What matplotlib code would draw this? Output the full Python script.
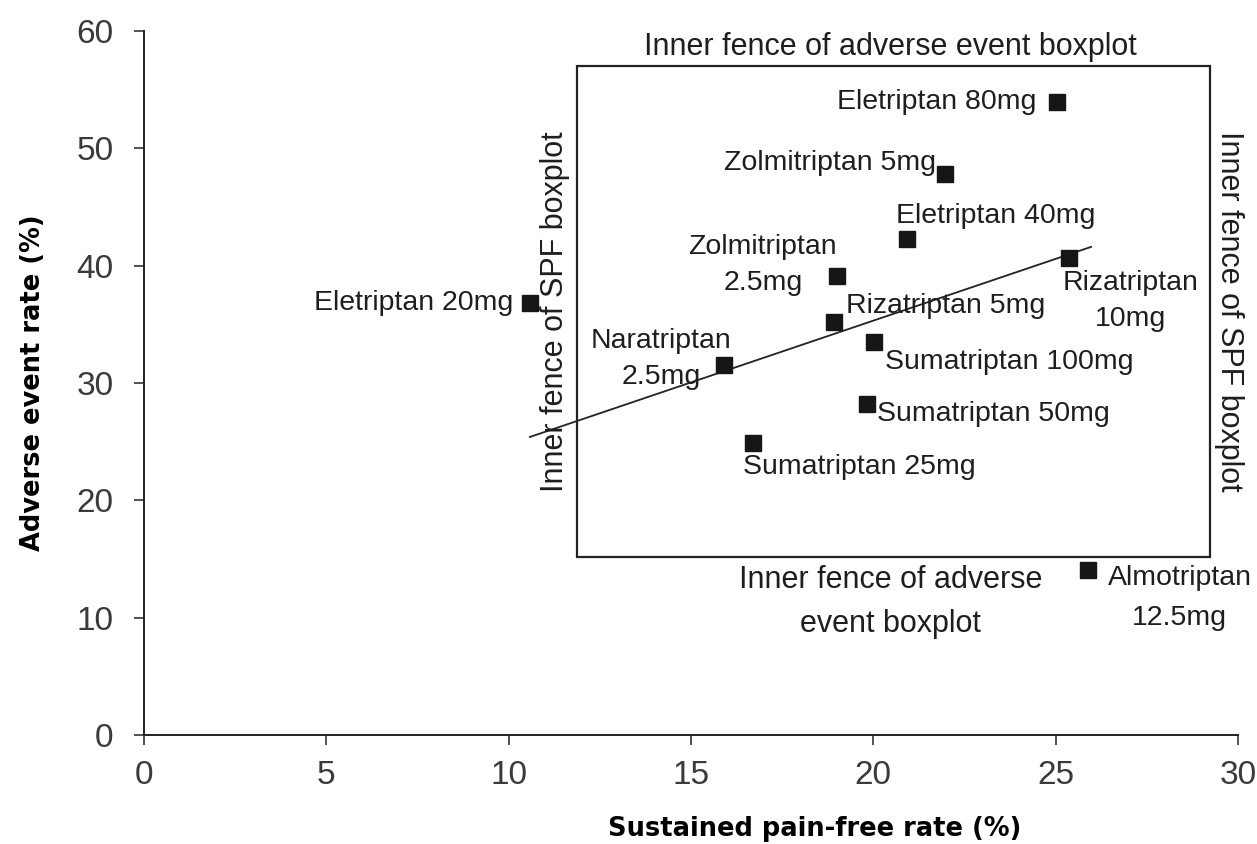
import matplotlib.pyplot as plt
import matplotlib.patches as mpatches

# Drugs: sustained pain-free rate (%) vs adverse event rate (%)
drugs = ['Eletriptan 20mg', 'Naratriptan\n2.5mg', 'Sumatriptan 25mg', 'Zolmitriptan\n2.5mg',
         'Rizatriptan 5mg', 'Sumatriptan 100mg', 'Sumatriptan 50mg', 'Eletriptan 40mg',
         'Zolmitriptan 5mg', 'Eletriptan 80mg', 'Rizatriptan\n10mg', 'Almotriptan\n12.5mg']
spf = [10.58, 15.90, 16.70, 19.00, 18.92, 20.02, 19.82, 20.92, 21.96, 25.03, 25.36, 25.88]
ae = [36.83, 31.54, 24.89, 39.13, 35.21, 33.50, 28.22, 42.28, 47.83, 53.96, 40.66, 14.07]

# trend line end points
fit_x = [10.58, 25.97]
fit_y = [25.4, 41.6]

# inner fences (SPF low/high, AE low/high)
spf_fence = [11.87, 29.24]
ae_fence = [15.2, 57.0]

fence_top = 'Inner fence of adverse event boxplot'
fence_bottom = 'Inner fence of adverse\nevent boxplot'
fence_side = 'Inner fence of SPF boxplot'

x_ticks = [0, 5, 10, 15, 20, 25, 30]
y_ticks = [0, 10, 20, 30, 40, 50, 60]

# label placement: (dx px, dy px, ha, line spacing)
label_pos = [(-17, 0, 'right', 1.5), (-63, 6, 'center', 1.5), (-10, -24, 'left', 1.5),
             (-74, 11, 'center', 1.5), (12, 16, 'left', 1.5), (11, -20, 'left', 1.5),
             (10, -10, 'left', 1.5), (-11, 23, 'left', 1.5), (-9, 11, 'right', 1.5),
             (-20, 0, 'right', 1.5), (62, -43, 'center', 1.5), (92, -28, 'center', 1.7)]

plt.rcParams['font.family'] = ['Liberation Sans', 'DejaVu Sans']

fig = plt.figure(figsize=(12.57, 8.44), dpi=100)
ax = fig.add_axes([0.1146, 0.1291, 0.8703, 0.8342])

ax.plot(fit_x, fit_y, color='#222222', lw=1.3, zorder=2)
ax.plot(spf, ae, 's', color='#161616', markersize=11, zorder=3)

px = 0.72
for name, x, y, (dx, dy, ha, ls) in zip(drugs, spf, ae, label_pos):
    ax.annotate(name, (x, y), xytext=(dx * px, dy * px), textcoords='offset points',
                ha=ha, va='center', fontsize=20.5, color='#1e1e1e', linespacing=ls,
                multialignment='center')

box = mpatches.Rectangle((spf_fence[0], ae_fence[0]), spf_fence[1] - spf_fence[0],
                         ae_fence[1] - ae_fence[0], fill=False, ec='#222222', lw=1.6, zorder=1)
ax.add_patch(box)

xm = sum(spf_fence) / 2
ym = sum(ae_fence) / 2
ax.annotate(fence_top, (xm, ae_fence[1]), xytext=(-2, 8), textcoords='offset points',
            ha='center', va='baseline', fontsize=22, color='#1e1e1e')
ax.annotate(fence_bottom, (xm, ae_fence[0]), xytext=(-2, -6), textcoords='offset points',
            ha='center', va='top', fontsize=22, color='#1e1e1e', linespacing=1.6)
ax.annotate(fence_side, (spf_fence[0], ym), xytext=(-5, 0), textcoords='offset points',
            ha='right', va='center', rotation=90, fontsize=22, color='#1e1e1e')
ax.annotate(fence_side, (spf_fence[1], ym), xytext=(3, 0), textcoords='offset points',
            ha='left', va='center', rotation=270, fontsize=22, color='#1e1e1e')

ax.set_xlim(0, 30)
ax.set_ylim(0, 60)
ax.set_xticks(x_ticks)
ax.set_yticks(y_ticks)
ax.spines['top'].set_visible(False)
ax.spines['right'].set_visible(False)
for s in ['left', 'bottom']:
    ax.spines[s].set_linewidth(1.4)
    ax.spines[s].set_color('#222222')
ax.tick_params(axis='both', length=7, width=1.2, color='#333333', labelsize=24,
               labelcolor='#3a3a3a')
ax.tick_params(axis='x', pad=11)
ax.tick_params(axis='y', pad=15)

ax.set_xlabel('Sustained pain-free rate (%)', fontsize=18.5, fontweight='bold',
              family='DejaVu Sans')
ax.xaxis.set_label_coords(18.4 / 30, -0.115)
ax.set_ylabel('Adverse event rate (%)', fontsize=18.5, fontweight='bold',
              family='DejaVu Sans')
ax.yaxis.set_label_coords(-0.09, 0.5)

fig.savefig('out.png', dpi=100)
